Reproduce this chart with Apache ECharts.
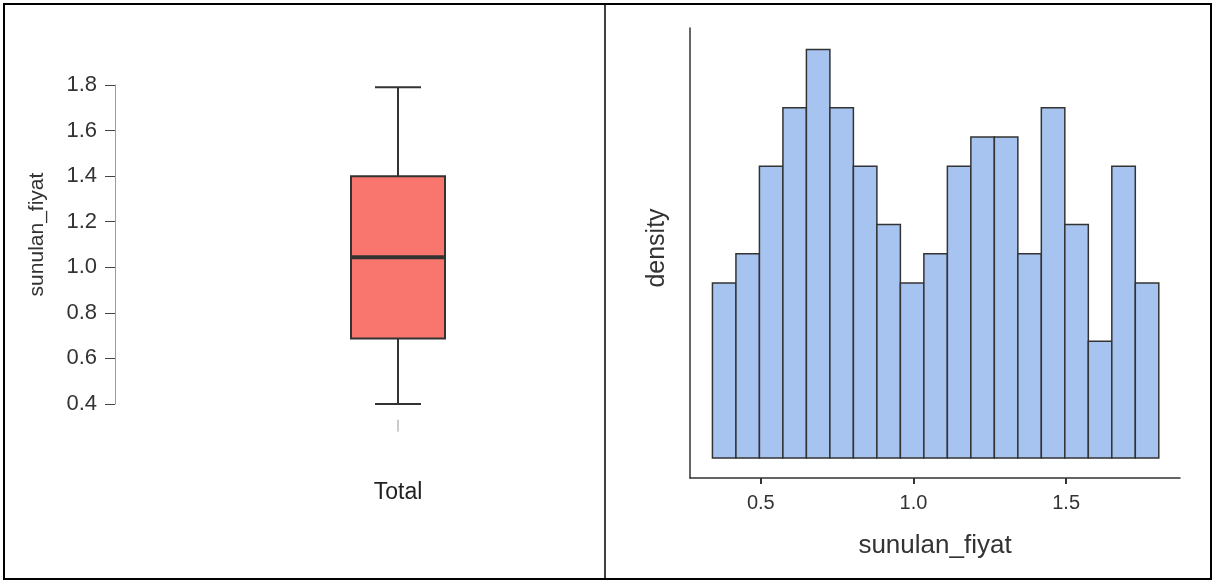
<!DOCTYPE html>
<html>
<head>
<meta charset="utf-8">
<script src="https://cdn.jsdelivr.net/npm/echarts@6/dist/echarts.min.js"></script>
<style>
  html, body { margin: 0; padding: 0; background: #fff; }
  #chart { width: 1214px; height: 581px; }
</style>
</head>
<body>
<div id="chart"></div>
<script>
// Box plot of sunulan_fiyat (min whisker, Q1, median, Q3, max whisker)
const boxCategories = ['Total'];
const boxStats = [0.40, 0.687, 1.044, 1.40, 1.79];
const rugValues = [0.305];
const boxTicks = [0.4, 0.6, 0.8, 1.0, 1.2, 1.4, 1.6, 1.8];

// Histogram of sunulan_fiyat: equal-width bins starting at binStart
const binStart = 0.3415;
const binWidth = 0.07695;
const densities = [0.456, 0.532, 0.760, 0.912, 1.064, 0.912, 0.760, 0.608, 0.456, 0.532,
                   0.760, 0.836, 0.836, 0.532, 0.912, 0.608, 0.304, 0.760, 0.456];
const histTicks = [0.5, 1.0, 1.5];

const FONT = 'Liberation Sans, Arial, sans-serif';
const histData = densities.map((d, i) => [binStart + i * binWidth, binStart + (i + 1) * binWidth, d]);

const chart = echarts.init(document.getElementById('chart'), null, { renderer: 'canvas' });

chart.setOption({
  animation: false,
  backgroundColor: '#ffffff',
  textStyle: { fontFamily: FONT },
  grid: [
    { left: 115, top: 85, width: 566, height: 319 },
    { left: 690, top: 28, right: 34, bottom: 103 }
  ],
  xAxis: [
    {
      gridIndex: 0, type: 'category', data: boxCategories,
      axisLine: { show: false }, axisTick: { show: false },
      axisLabel: { color: '#222', fontSize: 23, margin: 77, fontFamily: FONT }
    },
    {
      gridIndex: 1, type: 'value', min: 0.268, max: 1.873,
      splitLine: { show: false },
      axisLine: { onZero: false, lineStyle: { color: '#333', width: 1.5 } },
      axisTick: { customValues: histTicks, length: 6, lineStyle: { color: '#333', width: 2 } },
      axisLabel: { customValues: histTicks, color: '#333', fontSize: 20, margin: 15, fontFamily: FONT,
                   formatter: v => v.toFixed(1) },
      name: 'sunulan_fiyat', nameLocation: 'middle', nameGap: 55,
      nameTextStyle: { color: '#333', fontSize: 26, fontFamily: FONT }
    }
  ],
  yAxis: [
    {
      gridIndex: 0, type: 'value', min: 0.4, max: 1.8, interval: 0.2,
      splitLine: { show: false },
      axisLine: { show: true, lineStyle: { color: '#9a9a9a', width: 1 } },
      axisTick: { show: true, length: 10, lineStyle: { color: '#444', width: 1 } },
      axisLabel: { color: '#333', fontSize: 22, margin: 18, fontFamily: FONT,
                   formatter: v => v.toFixed(1) },
      name: 'sunulan_fiyat', nameLocation: 'middle', nameGap: 67, nameRotate: 90,
      nameTextStyle: { color: '#333', fontSize: 21, fontFamily: FONT, padding: [0, 0, 0, 20] }
    },
    {
      gridIndex: 1, type: 'value', min: -0.052, max: 1.12,
      splitLine: { show: false },
      axisLine: { show: true, onZero: false, lineStyle: { color: '#333', width: 1.5 } },
      axisTick: { show: false }, axisLabel: { show: false },
      name: 'density', nameLocation: 'middle', nameGap: 20, nameRotate: 90,
      nameTextStyle: { color: '#333', fontSize: 25, fontFamily: FONT, padding: [0, 0, 0, 10] }
    }
  ],
  series: [
    {
      // box, whiskers, caps and median
      type: 'custom', xAxisIndex: 0, yAxisIndex: 0, clip: false,
      data: [[0].concat(boxStats)],
      renderItem: function (params, api) {
        const c = api.value(0);
        const lo = api.coord([c, api.value(1)]);
        const q1 = api.coord([c, api.value(2)]);
        const md = api.coord([c, api.value(3)]);
        const q3 = api.coord([c, api.value(4)]);
        const hi = api.coord([c, api.value(5)]);
        const x = lo[0];
        const half = 47;
        const cap = 23;
        const stroke = { stroke: '#333', lineWidth: 2 };
        return {
          type: 'group',
          children: [
            { type: 'line', shape: { x1: x, y1: hi[1], x2: x, y2: q3[1] }, style: stroke },
            { type: 'line', shape: { x1: x, y1: q1[1], x2: x, y2: lo[1] }, style: stroke },
            { type: 'line', shape: { x1: x - cap, y1: hi[1], x2: x + cap, y2: hi[1] }, style: stroke },
            { type: 'line', shape: { x1: x - cap, y1: lo[1], x2: x + cap, y2: lo[1] }, style: stroke },
            { type: 'rect', shape: { x: x - half, y: q3[1], width: half * 2, height: q1[1] - q3[1] },
              style: { fill: '#F8766D', stroke: '#333', lineWidth: 2 } },
            { type: 'line', shape: { x1: x - half, y1: md[1], x2: x + half, y2: md[1] },
              style: { stroke: '#333', lineWidth: 4 } }
          ]
        };
      }
    },
    {
      // small rug mark below the box
      type: 'custom', xAxisIndex: 0, yAxisIndex: 0, clip: false,
      data: rugValues.map(v => [0, v]),
      renderItem: function (params, api) {
        const p = api.coord([api.value(0), api.value(1)]);
        return { type: 'line', shape: { x1: p[0], y1: p[1] - 6, x2: p[0], y2: p[1] + 6 },
                 style: { stroke: '#999', lineWidth: 1 } };
      }
    },
    {
      // histogram bars
      type: 'custom', xAxisIndex: 1, yAxisIndex: 1,
      data: histData,
      renderItem: function (params, api) {
        const p0 = api.coord([api.value(0), api.value(2)]);
        const p1 = api.coord([api.value(1), 0]);
        return {
          type: 'rect',
          shape: { x: p0[0], y: p0[1], width: p1[0] - p0[0], height: p1[1] - p0[1] },
          style: { fill: '#A7C4F0', stroke: '#333', lineWidth: 1.5 }
        };
      }
    }
  ],
  graphic: [
    { type: 'rect', shape: { x: 4, y: 4, width: 1207, height: 575 },
      style: { fill: 'none', stroke: '#000', lineWidth: 2 }, z: 100 },
    { type: 'line', shape: { x1: 605, y1: 4, x2: 605, y2: 579 },
      style: { stroke: '#000', lineWidth: 1.5 }, z: 100 }
  ]
});
</script>
</body>
</html>
